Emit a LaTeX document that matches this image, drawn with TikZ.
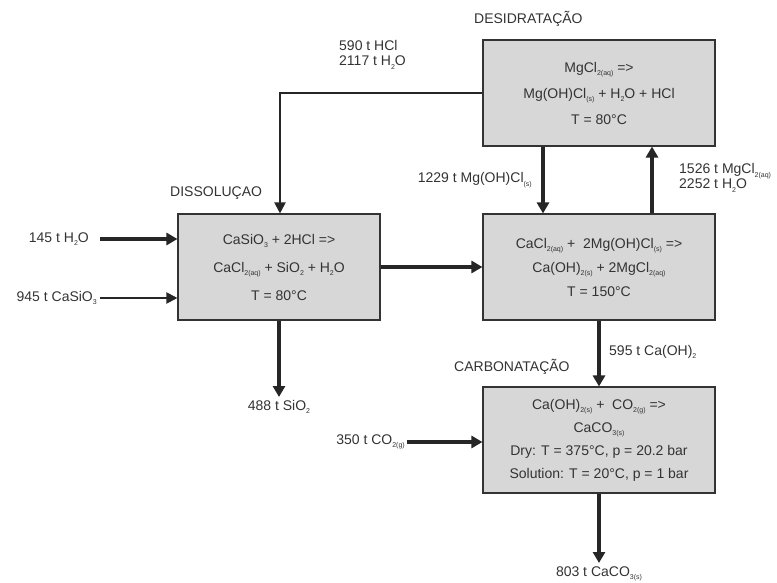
\documentclass[tikz,border=0pt]{standalone}
\usepackage{fontspec}
\setmainfont{Liberation Sans}
\usetikzlibrary{arrows.meta}
\newcommand\sbs[1]{\raisebox{-0.45ex}{\fontsize{7}{7}\selectfont #1}}
\definecolor{txt}{HTML}{333333}
\definecolor{boxfill}{HTML}{D7D7D7}
\tikzset{
  proc/.style={draw=black!80, line width=1.1pt, fill=boxfill, minimum width=232pt, align=center, text=txt, inner sep=0pt},
  lbl/.style={text=txt, font=\fontsize{14}{16}\selectfont, inner sep=0pt, align=left},
  flow/.style={draw=black!85, line width=3.2pt, -{Triangle[length=11pt,width=12pt]}},
  thinflow/.style={draw=black!85, line width=2pt, -{Triangle[length=11pt,width=11pt]}},
}
\begin{document}
\begin{tikzpicture}[x=1pt,y=-1pt]
\useasboundingbox (0,0) rectangle (777,583);
% boxes
\node[proc, minimum height=106pt, font=\fontsize{14}{26}\selectfont] (des) at (599,93)
  {MgCl\sbs{2(aq)} =>\\ Mg(OH)Cl\sbs{(s)} + H\sbs{2}O + HCl\\ T = 80°C};
\node[proc, minimum width=202pt, minimum height=106pt, font=\fontsize{14}{28}\selectfont] (dis) at (279,267)
  {CaSiO\sbs{3} + 2HCl =>\\ CaCl\sbs{2(aq)} + SiO\sbs{2} + H\sbs{2}O\\ T = 80°C};
\node[proc, minimum height=106pt, font=\fontsize{14}{24}\selectfont] (mid) at (599,267)
  {CaCl\sbs{2(aq)} +\ \ 2Mg(OH)Cl\sbs{(s)} =>\\ Ca(OH)\sbs{2(s)} + 2MgCl\sbs{2(aq)}\\ T = 150°C};
\node[proc, minimum height=106pt, font=\fontsize{14}{23}\selectfont] (car) at (599,440)
  {Ca(OH)\sbs{2(s)} +\ \ CO\sbs{2(g)} =>\\ CaCO\sbs{3(s)}\\ Dry: T = 375°C, p = 20.2 bar\\ Solution: T = 20°C, p = 1 bar};
% titles
\node[lbl, anchor=west] (tdes) at (474,19) {DESIDRATAÇÃO};
\node[lbl, anchor=west] (tdis) at (170,193) {DISSOLUÇAO};
\node[lbl, anchor=west] (tcar) at (454,367) {CARBONATAÇÃO};
% labels
\node[lbl, anchor=west, font=\fontsize{14}{15}\selectfont] (lhcl) at (339,55) {590 t HCl\\2117 t H\sbs{2}O};
\node[lbl, anchor=east] (lh2o) at (89,239) {145 t H\sbs{2}O};
\node[lbl, anchor=east] (lcas) at (97,298) {945 t CaSiO\sbs{3}};
\node[lbl] (lsio) at (279,407) {488 t SiO\sbs{2}};
\node[lbl, anchor=east] (lmgoh) at (532,180) {1229 t Mg(OH)Cl\sbs{(s)}};
\node[lbl, anchor=west, font=\fontsize{14}{15}\selectfont] (lmgcl) at (679,178) {1526 t MgCl\sbs{2(aq)}\\2252 t H\sbs{2}O};
\node[lbl, anchor=west] (lcaoh) at (609,352) {595 t Ca(OH)\sbs{2}};
\node[lbl, anchor=east] (lco2) at (405,442) {350 t CO\sbs{2(g)}};
\node[lbl] (lcaco) at (599,574) {803 t CaCO\sbs{3(s)}};
% coordinates
\coordinate (c1) at (280,93);
\coordinate (h2os) at (100,239);
\coordinate (cass) at (100,298);
\coordinate (sioe) at (279,397);
\coordinate (co2s) at (407,442);
\coordinate (cacoe) at (599,563);
% connectors
\draw[thinflow] (des.west |- c1) -- (c1) -- (dis.north -| c1);
\draw[flow] (h2os) -- (dis.west |- h2os);
\draw[thinflow] (cass) -- (dis.west |- cass);
\draw[flow] (dis.south) -- (sioe);
\draw[flow] (dis.east) -- (mid.west);
\draw[flow] ([xshift=-56pt]des.south) -- ([xshift=-56pt]mid.north);
\draw[flow] ([xshift=53pt]mid.north) -- ([xshift=53pt]des.south);
\draw[flow] (mid.south) -- (car.north);
\draw[flow] (co2s) -- (car.west |- co2s);
\draw[flow] (car.south) -- (cacoe);
\end{tikzpicture}
\end{document}
